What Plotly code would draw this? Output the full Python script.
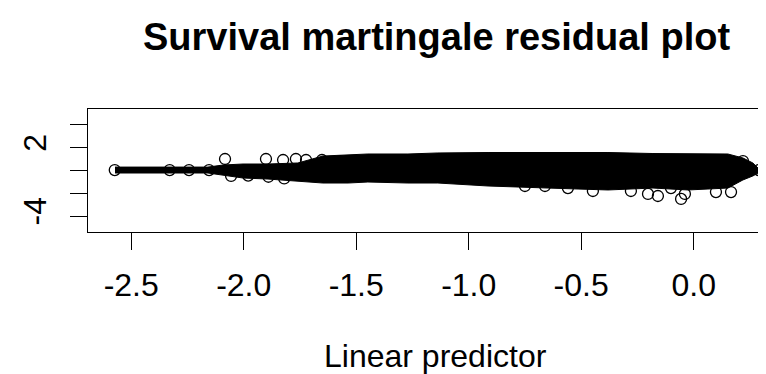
import plotly.graph_objects as go

# Axis ticks
x_ticks = [-2.5, -2.0, -1.5, -1.0, -0.5, 0.0]
x_tick_labels = ["-2.5", "-2.0", "-1.5", "-1.0", "-0.5", "0.0"]
y_ticks = [-4, -2, 0, 2, 4]
y_tick_labels = ["-4", "", "", "2", ""]

# Dense core of overlapping points: envelope
band_x = [-2.572, -2.159, -2.092, -2.003, -1.892, -1.759, -1.648, -1.536, -1.448,
          -1.270, -1.137, -0.914, -0.648, -0.381, -0.181, -0.025, 0.152, 0.219,
          0.263, 0.295]
band_top = [0.30, 0.30, 0.48, 0.57, 0.57, 0.66, 1.27, 1.36, 1.45,
            1.45, 1.54, 1.58, 1.58, 1.58, 1.49, 1.45, 1.45, 1.10,
            0.66, 0.04]
band_bottom = [-0.22, -0.22, -0.40, -0.66, -0.75, -0.92, -1.10, -1.10, -1.01,
               -1.10, -1.10, -1.36, -1.54, -1.71, -1.54, -1.71, -1.54, -0.83,
               -0.48, -0.13]

# Individually visible points (linear predictor, martingale residual)
pt_x = [-2.573, -2.329, -2.243, -2.154, -2.083, -1.901, -1.825, -1.768, -1.723,
        -1.652, -1.572, -2.056, -1.980, -1.890, -1.820, -0.750, -0.661, -0.559,
        -0.448, -0.279, -0.203, -0.159, -0.101, -0.056, -0.039, 0.099, 0.166,
        0.219, 0.290]
pt_y = [0.04, 0.04, 0.04, 0.04, 1.01, 1.01, 0.92, 1.01, 0.92,
        0.92, 0.83, -0.48, -0.45, -0.55, -0.70, -1.36, -1.36, -1.54,
        -1.80, -1.80, -2.06, -2.24, -1.54, -2.50, -2.06, -1.89, -1.89,
        0.83, 0.04]

fig = go.Figure()
fig.add_trace(go.Scatter(
    x=band_x + band_x[::-1],
    y=band_top + band_bottom[::-1],
    fill="toself", fillcolor="black", mode="lines",
    line=dict(color="black", width=1), hoverinfo="skip", showlegend=False))
fig.add_trace(go.Scatter(
    x=pt_x, y=pt_y, mode="markers",
    marker=dict(symbol="circle-open", size=11, color="black",
                line=dict(width=1.3, color="black")),
    showlegend=False))

font_family = "Liberation Sans, Arial, sans-serif"
fig.update_layout(
    template="none",
    width=766, height=374,
    margin=dict(l=80, r=0, t=101, b=150, autoexpand=False),
    paper_bgcolor="white", plot_bgcolor="white",
    font=dict(family=font_family, color="black"),
    xaxis=dict(range=[-2.692, 0.357], tickvals=x_ticks, ticktext=x_tick_labels,
               automargin=False, ticklabelstandoff=8,
               showline=True, mirror=True, linecolor="black", linewidth=1,
               ticks="outside", ticklen=17, tickwidth=1, tickcolor="black",
               showgrid=False, zeroline=False, tickfont=dict(size=32)),
    yaxis=dict(range=[-5.4, 5.4], tickvals=y_ticks, ticktext=y_tick_labels,
               automargin=False, tickangle=-90, ticklabelstandoff=11,
               showline=True, mirror=False, linecolor="black", linewidth=1,
               ticks="outside", ticklen=17, tickwidth=1, tickcolor="black",
               showgrid=False, zeroline=False, tickfont=dict(size=32)),
    annotations=[
        dict(text="<b>Survival martingale residual plot</b>", xref="paper", yref="paper",
             x=0.508, y=1.585, xanchor="center", yanchor="middle", showarrow=False,
             font=dict(size=38, family=font_family, color="black")),
        dict(text="Linear predictor", xref="paper", yref="paper",
             x=0.507, y=-1.012, xanchor="center", yanchor="middle", showarrow=False,
             font=dict(size=32, family=font_family, color="black")),
    ],
)
fig.write_html("out.html")
